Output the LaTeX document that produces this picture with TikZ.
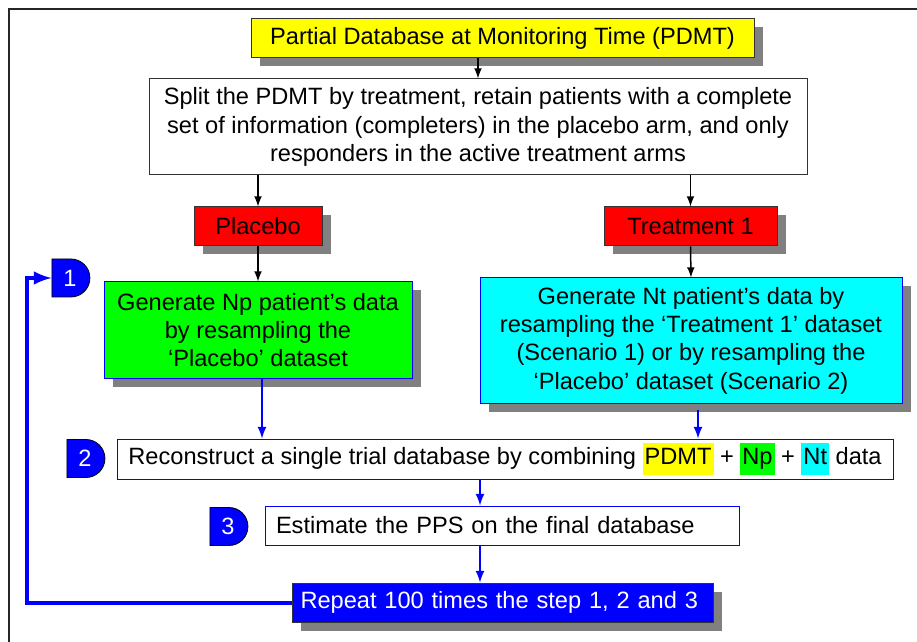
\documentclass[tikz,border=0pt]{standalone}
\usepackage{fontspec}
\setmainfont{Liberation Sans}
\usetikzlibrary{positioning,shapes,shapes.misc,shadows}
\usetikzlibrary{arrows}
\usepackage{xcolor}
\definecolor{pblue}{RGB}{0,0,255}
\definecolor{pgreen}{RGB}{0,255,0}
\definecolor{pcyan}{RGB}{0,255,255}
\definecolor{pyellow}{RGB}{255,255,0}
\definecolor{pred}{RGB}{255,0,0}
\definecolor{pshadow}{RGB}{128,128,128}
\newcommand{\hlbox}[2]{{\setlength{\fboxsep}{1pt}\colorbox{#1}{\strut #2}}}

\begin{document}
\begin{tikzpicture}
[x=0.5pt, y=-0.5pt, >=latex,
every node/.style={font=\fontsize{11.8}{14.2}\selectfont, inner sep=0pt},
% The box style is used for every step of the flow chart
box/.style={rectangle, draw=black!80, fill=white, line width=0.5pt, align=center},
% The shade style gives the grey drop shadow
shade/.style={drop shadow={shadow xshift=4.25pt, shadow yshift=-4.25pt, fill=pshadow, opacity=1}},
bluebox/.style={box, draw=pblue},
% The badge style is used to draw the numbers of the steps
badge/.style={rounded rectangle, rounded rectangle left arc=none, fill=pblue, draw=black, line width=0.4pt, minimum width=19pt, minimum height=19pt, text=white},
arr/.style={->, line width=0.75pt, black},
bluearr/.style={->, line width=1pt, pblue},
loopline/.style={->, line width=2pt, pblue}
]
\useasboundingbox (0,0) rectangle (917,642);
% Frame
\draw[line width=1pt, black!85](917,9)--(9,9)--(9,642);
% Draw boxes
\draw(502.5,38.5)node[box, shade, fill=pyellow, minimum width=251.5pt, minimum height=19.5pt](pdmt){Partial Database at Monitoring Time (PDMT)};
\draw(478,127)node[box, minimum width=329pt, minimum height=48pt](split){Split the PDMT by treatment, retain patients with a complete\\ set of information (completers) in the placebo arm, and only\\ responders in the active treatment arms};
\draw(258,226.5)node[box, shade, fill=pred, minimum width=64pt, minimum height=19.5pt](placebo){Placebo};
\draw(690.5,226.5)node[box, shade, fill=pred, minimum width=86.5pt, minimum height=19.5pt](treat){Treatment 1};
\draw(258,330)node[bluebox, shade, fill=pgreen, minimum width=154pt, minimum height=48pt](genp){Generate Np patient’s data\\ by resampling the\\ ‘Placebo’ dataset};
\draw(691,340.5)node[bluebox, shade, fill=pcyan, minimum width=211pt, minimum height=62.5pt](gent){Generate Nt patient’s data by\\ resampling the ‘Treatment 1’ dataset\\ (Scenario 1) or by resampling the\\ ‘Placebo’ dataset (Scenario 2)};
\draw(505,459)node[bluebox, minimum width=388pt, minimum height=20pt](recon){Reconstruct a single trial database by combining \hlbox{pyellow}{PDMT} + \hlbox{pgreen}{Np} + \hlbox{pcyan}{Nt} data};
\draw(502,525.5)node[bluebox, align=left, text width=226pt, inner xsep=5.5pt, minimum height=19.5pt](estim){Estimate the PPS on the final database};
\draw(502.5,602.5)node[box, shade, fill=pblue, text=white, align=left, text width=202pt, inner xsep=4.25pt, minimum height=19.5pt](rep){Repeat 100 times the step 1, 2 and 3};
% Draw step numbers
\draw(70,278)node[badge](n1){1};
\draw(85,458.5)node[badge](n2){2};
\draw(228,526.5)node[badge](n3){3};
% Draw arrows
\draw[arr](split.north |- pdmt.south)--(split.north);
\draw[arr](split.south -| placebo.north)--(placebo.north);
\draw[arr](split.south -| treat.north)--(treat.north);
\draw[arr](placebo.south)--(genp.north);
\draw[arr](treat.south)--(gent.north);
\draw[bluearr]([xshift=2pt]genp.south)--([xshift=2pt]genp.south |- recon.north);
\draw[bluearr]([xshift=3.5pt,yshift=-3pt]gent.south)--([xshift=3.5pt]gent.south |- recon.north);
\draw[bluearr]([xshift=-11pt]estim.north |- recon.south)--([xshift=-11pt]estim.north);
\draw[bluearr]([xshift=-11pt]estim.south)--([xshift=-11pt]estim.south |- rep.north);
\draw[loopline](rep.west)-|([xshift=-12.5pt]n1.west)--(n1.west);
\end{tikzpicture}
\end{document}
